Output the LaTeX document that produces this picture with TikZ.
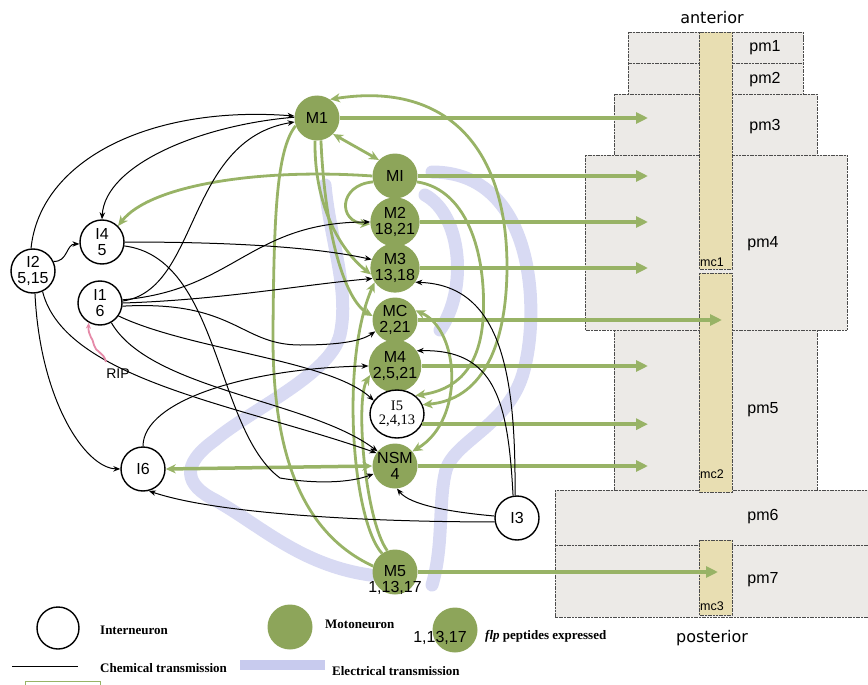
\documentclass[tikz,border=0pt]{standalone}
\usepackage{fontspec}
\setmainfont{Liberation Serif}
\setsansfont{Liberation Sans}
\newfontfamily\dejavu{DejaVu Sans}
\usetikzlibrary{arrows.meta,shapes.geometric}

\definecolor{mgreen}{HTML}{8DA55A}
\definecolor{lgreen}{HTML}{98B366}
\definecolor{lav}{HTML}{C8CBEE}
\definecolor{pmfill}{HTML}{ECEAE7}
\definecolor{mcfill}{HTML}{E8DEB2}
\definecolor{ripc}{HTML}{E58AA8}

\newcommand\nlabfont{\sffamily\fontsize{16}{15.5}\selectfont}

\tikzset{
  motor/.style={circle, fill=mgreen, minimum size=45pt, inner sep=0pt, align=center, font=\nlabfont},
  inter/.style={circle, draw=black, line width=1.4pt, fill=white, minimum size=44pt, inner sep=0pt, align=center, font=\nlabfont},
  chem/.style={draw=black, line width=1pt, -{Stealth[length=7pt,width=5.5pt]}},
  gline/.style={draw=lgreen, line width=2.8pt},
  gcon/.style={gline, -{Stealth[length=10pt,width=9pt,inset=3pt]}},
  gboth/.style={gline, {Stealth[length=10pt,width=9pt,inset=3pt]}-{Stealth[length=10pt,width=9pt,inset=3pt]}},
  musc/.style={draw=lgreen, line width=4.5pt, -{Triangle[length=12pt,width=11pt]}},
  elec/.style={draw=lav, line width=13pt, line cap=round, opacity=0.7},
  pmbox/.style={fill=pmfill, draw=black!70, line width=0.6pt, dash pattern=on 2pt off 0.7pt},
  mcbox/.style={fill=mcfill, draw=black!70, line width=0.6pt, dash pattern=on 2pt off 0.7pt},
  pmlab/.style={font=\sffamily\fontsize{16}{16}\selectfont},
  mclab/.style={font=\sffamily\fontsize{12.5}{12.5}\selectfont, inner sep=1pt},
  axlab/.style={font=\dejavu\fontsize{16}{16}\selectfont},
  legtext/.style={font=\rmfamily\bfseries\fontsize{13}{13}\selectfont, inner sep=0pt},
}

\begin{document}
\begin{tikzpicture}[x=1pt,y=-1pt]
\useasboundingbox (0,0) rectangle (868,685);
\clip (0,0) rectangle (868,685);

% electrical coupling bands (background)
\draw[elec] (432,172) .. controls (535,172) and (540,310) .. (524,370)
            .. controls (510,425) and (455,440) .. (446,470)
            .. controls (438,500) and (444,545) .. (432,585);
\draw[elec] (425,195) .. controls (462,215) and (468,290) .. (440,330);
\draw[elec] (325,185) .. controls (330,240) and (350,290) .. (340,335)
            .. controls (330,375) and (250,410) .. (215,440)
            .. controls (180,465) and (185,485) .. (215,500)
            .. controls (260,525) and (300,565) .. (370,575);

% pharyngeal muscles
\draw[pmbox] (628,32) rectangle (803,63);
\draw[pmbox] (628,63) rectangle (803,94);
\draw[pmbox] (614,94) rectangle (817,155);
\draw[pmbox] (585,155) rectangle (847,330);
\draw[pmbox] (614,330) rectangle (817,490);
\draw[pmbox] (555,490) rectangle (880,545);
\draw[pmbox] (555,545) rectangle (880,617);
\draw[mcbox] (699,32) rectangle (732,269);
\draw[mcbox] (699,273) rectangle (732,492);
\draw[mcbox] (699,540) rectangle (732,615);

\node[pmlab] (pm1) at (765,48) {pm1};
\node[pmlab] (pm2) at (765,80) {pm2};
\node[pmlab] (pm3) at (765,127) {pm3};
\node[pmlab] (pm4) at (763,244) {pm4};
\node[pmlab] (pm5) at (763,410) {pm5};
\node[pmlab] (pm6) at (763,517) {pm6};
\node[pmlab] (pm7) at (763,580) {pm7};
\node[mclab, anchor=south west] (mc1) at (699,268) {mc1};
\node[mclab, anchor=south west] (mc2) at (699,480) {mc2};
\node[mclab, anchor=south west] (mc3) at (699,612) {mc3};
\node[axlab] (ant) at (712,18) {anterior};
\node[axlab] (post) at (712,638) {posterior};

% neurons
\node[motor] (M1) at (317,118) {M1};
\node[motor] (MI) at (395,176) {MI};
\node[motor] (M2) at (395,222) {M2\\18,21};
\node[motor] (M3) at (395,268) {M3\\13,18};
\node[motor] (MC) at (395,320) {MC\\2,21};
\node[motor] (M4) at (395,366) {M4\\2,5,21};
\node[motor] (NSM) at (395,466) {NSM\\4};
\node[motor] (M5) at (395,572) {};
\node[inter, ellipse, minimum width=54pt, minimum height=48pt, font=\rmfamily\fontsize{14.5}{14.5}\selectfont] (I5) at (397,414) {I5\\2,4,13};
\node[inter] (I2) at (33,271) {I2\\5,15};
\node[inter] (I4) at (102,242) {I4\\5};
\node[inter] (I1) at (100,303) {I1\\6};
\node[inter] (I6) at (143,469) {I6};
\node[inter] (I3) at (517,518) {I3};

% target columns on the muscles
\coordinate (tcol) at (648,0);
\coordinate (tMC) at (722,0);
\coordinate (tM5) at (718,0);

% neuromuscular outputs
\draw[musc] (M1.east) -- (M1.east -| tcol);
\draw[musc] (MI.east) -- (MI.east -| tcol);
\draw[musc] (M2.east) -- (M2.east -| tcol);
\draw[musc] (M3.east) -- (M3.east -| tcol);
\draw[musc] (MC.east) -- (MC.east -| tMC);
\draw[musc] (M4.east) -- (M4.east -| tcol);
\draw[musc] (I5.-22) -- (I5.-22 -| tcol);
\draw[musc] (NSM.east) -- (NSM.east -| tcol);
\draw[musc] (M5.east) -- (M5.east -| tM5);

% motoneuron connections
\draw[gboth] (M1.-45) -- (MI.135);
\draw[gcon] (M1.-95) .. controls (314,205) and (340,250) .. (M3.195);
\draw[gcon] (M1.-80) .. controls (325,235) and (345,300) .. (MC.170);
\draw[gcon] (MI.195) .. controls (338,185) and (338,222) .. (M2.185);
\draw[gboth] (M1.55) .. controls (440,82) and (508,140) .. (507,270)
             .. controls (506,350) and (480,400) .. (I5.20);
\draw[gcon] (MI.-15) .. controls (470,190) and (487,260) .. (483,320)
            .. controls (479,370) and (455,390) .. (I5.45);
\draw[gboth] (MC.25) .. controls (460,330) and (465,420) .. (NSM.40);
\draw[gcon] (MI.180) .. controls (260,168) and (150,185) .. (I4.45);
\draw[gboth, line width=3.5pt] (I6.east) -- (NSM.west);
\draw[gline] (M5.165) .. controls (295,530) and (272,440) .. (273,330)
             .. controls (274,220) and (276,150) .. (M1.200);
\draw[gcon] (M5.125) .. controls (352,520) and (340,360) .. (M3.215);
\draw[gcon] (M5.110) .. controls (365,520) and (355,400) .. (M4.200);

% chemical synapses
\draw[chem] (I2.95) .. controls (40,160) and (150,105) .. (M1.175);
\draw[chem] (I2.25) .. controls (68,262) and (66,244) .. (I4.185);
\draw[chem] (I2.-85) .. controls (40,400) and (85,468) .. (I6.180);
\draw[chem] (I2.-65) .. controls (65,380) and (240,405) .. (NSM.145);
\draw[chem] (I1.5) .. controls (200,290) and (185,140) .. (M1.190);
\draw[chem] (I1.8) .. controls (235,290) and (250,222) .. (M2.180);
\draw[chem] (I1.0) .. controls (220,300) and (300,285) .. (M3.205);
\draw[chem] (I1.-8) .. controls (235,300) and (240,345) .. (300,345)
            .. controls (335,345) and (360,342) .. (MC.210);
\draw[chem] (I1.-35) .. controls (190,350) and (330,360) .. (I5.150);
\draw[chem] (I1.-60) .. controls (150,390) and (310,400) .. (NSM.140);
\draw[chem] (I4.0) .. controls (220,242) and (310,246) .. (M3.160);
\draw[chem] (I4.-10) .. controls (220,258) and (215,430) .. (280,478)
            .. controls (315,484) and (350,483) .. (NSM.200);
\draw[chem] (I6.90) .. controls (143,400) and (250,368) .. (M4.180);
\draw[chem] (M1.178) .. controls (200,125) and (105,165) .. (I4.90);
\draw[chem] (I3.95) .. controls (516,370) and (500,285) .. (M3.-35);
\draw[chem] (I3.100) .. controls (508,400) and (495,349) .. (M4.35);
\draw[chem] (I3.175) .. controls (450,512) and (410,505) .. (NSM.-85);
\draw[chem] (I3.190) .. controls (380,522) and (220,515) .. (I6.-75);

% RIP input
\node[font=\sffamily\fontsize{14}{14}\selectfont] (RIP) at (118,374) {RIP};
\coordinate (ripS) at (106,362);
\draw[ripc, line width=1.8pt, -{Stealth[length=6pt,width=5pt]}]
  (ripS) .. controls (104,352) and (95,352) .. (94,345)
  .. controls (93,338) and (88,336) .. (I1.-120);

% M5 label sits low in its circle
\node[font=\nlabfont, align=center] (M5t) at (395,580) {M5\\1,13,17};

% legend
\node[inter, minimum size=42pt] (legI) at (58,628) {};
\node[legtext, anchor=west] (legIt) at (100,630) {Interneuron};
\node[motor] (legM) at (290,627) {};
\node[legtext, anchor=west] (legMt) at (325,624) {Motoneuron};
\node[motor] (legP) at (455,630) {};
\node[font=\nlabfont] (legPn) at (440,638) {1,13,17};
\node[legtext, anchor=west] (legPt) at (485,636) {\textit{flp} peptides expressed};
\coordinate (lc1) at (12,666);
\coordinate (lc2) at (78,666);
\draw[black, line width=0.8pt] (lc1) -- (lc2);
\node[legtext, anchor=west] (legCt) at (100,668) {Chemical transmission};
\coordinate (le1) at (240,665);
\coordinate (le2) at (325,665);
\draw[lav, line width=10pt] (le1) -- (le2);
\node[legtext, anchor=west] (legEt) at (332,671) {Electrical transmission};
\draw[lgreen, line width=0.8pt] (25,681) rectangle (100,695);
\end{tikzpicture}
\end{document}
